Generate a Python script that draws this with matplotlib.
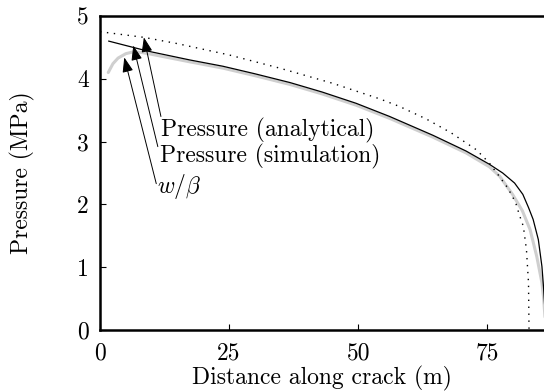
import matplotlib
matplotlib.use("Agg")
import matplotlib.pyplot as plt

plt.rcParams['font.family'] = 'serif'
plt.rcParams['font.serif'] = ['cmr10']
plt.rcParams['mathtext.fontset'] = 'cm'
plt.rcParams['axes.unicode_minus'] = False
plt.rcParams['font.size'] = 17

# pressure, analytical solution (dotted)
x_analytical = [0, 8.5, 15, 25, 34.8, 45, 54.2, 58.0, 63.2, 68.0, 72.9, 75.4, 77.4,
                79.0, 80.5, 81.2, 82.0, 82.6, 83.0, 83.1]
p_analytical = [4.75, 4.66, 4.56, 4.38, 4.17, 3.93, 3.68, 3.56, 3.36, 3.14, 2.87, 2.66, 2.44,
                2.26, 2.03, 1.84, 1.65, 1.28, 0.75, 0.0]

# pressure, simulation (solid black)
x_simulation = [1.7, 5, 9.3, 17.4, 23.8, 30, 36.8, 43, 49.6, 56.1, 64.5, 70.9, 75.4, 78.0,
                80.3, 81.9, 83.0, 83.9, 84.9, 85.6, 85.9, 86.2]
p_simulation = [4.60, 4.53, 4.44, 4.30, 4.20, 4.08, 3.94, 3.79, 3.61, 3.40, 3.10, 2.85, 2.64, 2.50,
                2.34, 2.16, 1.95, 1.76, 1.44, 1.01, 0.69, 0.30]

# w / beta (grey)
x_wbeta = [1.6, 2.5, 3.5, 5, 6.5, 8, 10, 17.4, 23.8, 30, 36.8, 43, 49.6, 56.1, 64.5, 70.9,
           75.4, 77.4, 79.9, 81.8, 83.3, 84.6, 85.6, 85.9, 86.2]
p_wbeta = [4.10, 4.24, 4.33, 4.40, 4.43, 4.42, 4.39, 4.27, 4.17, 4.05, 3.91, 3.76, 3.58, 3.37,
           3.07, 2.82, 2.60, 2.45, 2.16, 1.90, 1.60, 1.17, 0.75, 0.53, 0.20]

labels = ['Pressure (analytical)', 'Pressure (simulation)', r'$w/\beta$']
arrow_tips = [(8.5, 4.66), (6.45, 4.53), (4.7, 4.34)]
arrow_tails = [(11.8, 3.40), (11.2, 2.92), (10.9, 2.33)]
label_pos = [(11.9, 3.17), (11.7, 2.77), (11.0, 2.28)]

fig = plt.figure(figsize=(5.44, 3.92), dpi=100)
ax = fig.add_axes([100/544, 62/392, 444/544, 314/392])

ax.plot(x_wbeta, p_wbeta, color='#cfcfcf', lw=2.2, solid_capstyle='round')
ax.plot(x_simulation, p_simulation, color='black', lw=0.9)
ax.plot(x_analytical, p_analytical, color='black', lw=1.0, dashes=(1, 4))

for lab, tip, tail, pos in zip(labels, arrow_tips, arrow_tails, label_pos):
    ax.annotate('', xy=tip, xytext=tail,
                arrowprops=dict(arrowstyle='-|>,head_length=0.9,head_width=0.33',
                                mutation_scale=10, color='black', lw=0.7,
                                shrinkA=0, shrinkB=0))
    ax.text(pos[0], pos[1], lab, ha='left', va='center')

ax.set_xlim(0, 86)
ax.set_ylim(0, 5)
ax.set_xticks([0, 25, 50, 75])
ax.set_yticks([0, 1, 2, 3, 4, 5])
ax.tick_params(direction='in', length=4, width=0.8, top=False, right=False)
ax.tick_params(axis='x', pad=9)
ax.tick_params(axis='y', pad=8)
ax.spines['right'].set_visible(False)
for s in ['left', 'bottom', 'top']:
    ax.spines[s].set_linewidth(1.8)

ax.set_xlabel('Distance along crack (m)', labelpad=1)
ax.set_ylabel('Pressure (MPa)', labelpad=30)

fig.savefig('out.png', dpi=100)
